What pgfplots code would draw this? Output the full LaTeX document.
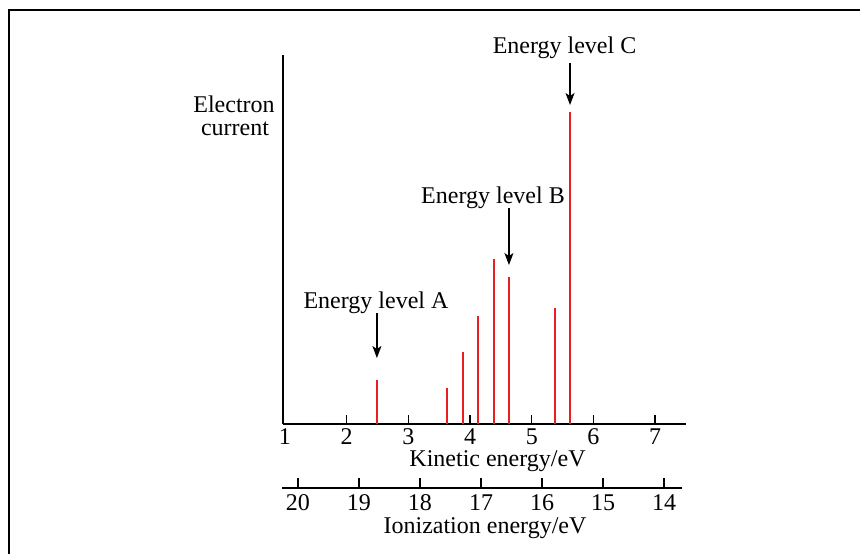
\documentclass[border=0pt]{standalone}
\usepackage{fontspec}
\setmainfont{Liberation Serif}
\usepackage{pgfplots}
\pgfplotsset{compat=1.18}
\usetikzlibrary{arrows.meta}
\definecolor{linered}{RGB}{232,30,37}
\begin{document}
\begin{tikzpicture}[font=\fontsize{12}{14}\selectfont]
% outer frame (runs off the right and bottom edges)
\draw[line width=1pt] (4.25pt,-290pt) -- (4.25pt,-4.75pt) -- (440pt,-4.75pt);

% main axis: kinetic energy
\begin{axis}[
  at={(141.5pt,-212pt)}, anchor=south west,
  scale only axis, width=201.5pt, height=184.5pt,
  xmin=0.968, xmax=7.5, ymin=0, ymax=369,
  axis x line=bottom, axis y line=left,
  axis line style={-, line width=0.8pt},
  xtick={2,...,7}, ytick=\empty,
  extra x ticks={1}, extra x tick style={major tick length=0pt},
  tick align=inside, major tick length=4.5pt,
  tick style={line width=0.7pt, black},
  xticklabel style={inner sep=0pt, yshift=-2pt},
  /pgf/number format/assume math mode=true,
  clip=false,
]
\addplot[ycomb, draw=linered, line width=1pt, mark=none] coordinates {
  (2.49,44) (3.63,36) (3.89,72) (4.13,108)
  (4.39,165) (4.63,147) (5.37,116) (5.62,312)
};
\draw[-{Stealth[length=6pt,width=4.5pt,inset=1.5pt]}, line width=0.6pt]
  (axis cs:2.49,111) -- (axis cs:2.49,66);
\draw[-{Stealth[length=6pt,width=4.5pt,inset=1.5pt]}, line width=0.6pt]
  (axis cs:4.63,216) -- (axis cs:4.63,159);
\draw[-{Stealth[length=6pt,width=4.5pt,inset=1.5pt]}, line width=0.6pt]
  (axis cs:5.62,361) -- (axis cs:5.62,319);
\end{axis}

% second scale: ionization energy
\begin{axis}[
  at={(141pt,-244pt)}, anchor=south west,
  scale only axis, width=200pt, height=10pt,
  xmin=13.705, xmax=20.262, ymin=0, ymax=1, x dir=reverse,
  axis x line=bottom, axis y line=none,
  axis line style={-, line width=0.8pt},
  xtick={14,...,20}, ytick=\empty,
  tick align=inside, major tick length=5pt,
  tick style={line width=0.7pt, black},
  xticklabel style={inner sep=0pt, yshift=-3pt},
  /pgf/number format/assume math mode=true,
]
\end{axis}

\begin{scope}[every node/.style={inner sep=0pt, anchor=base}]
\node at (248.75pt,-233pt) {Kinetic energy/eV};
\node at (242.5pt,-266.5pt) {Ionization energy/eV};
\node at (117pt,-56pt) {Electron};
\node at (117.5pt,-67.5pt) {current};
\node at (188pt,-154pt) {Energy level A};
\node at (246.5pt,-101.5pt) {Energy level B};
\node at (282.25pt,-26.5pt) {Energy level C};
\end{scope}

\pgfresetboundingbox
\path[use as bounding box] (0,0) rectangle (430pt,-276.5pt);
\end{tikzpicture}
\end{document}
